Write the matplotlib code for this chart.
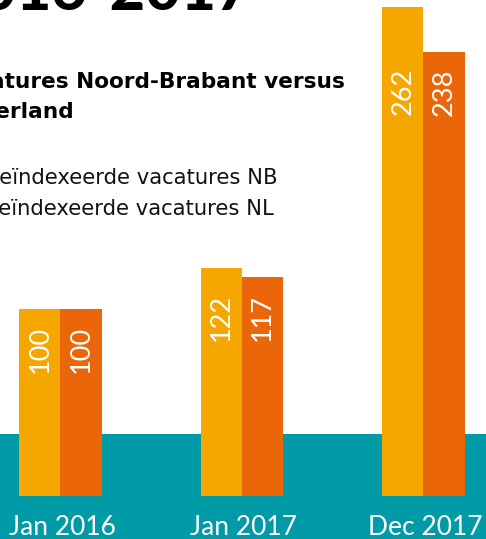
import matplotlib
matplotlib.use("Agg")
import matplotlib.pyplot as plt
import numpy as np

plt.rcParams['font.family'] = ['Lato', 'DejaVu Sans']

# data
periods = ['Jan 2016', 'Jan 2017', 'Dec 2017']
nb_values = [100, 122, 262]
nl_values = [100, 117, 238]
series_names = ['Geïndexeerde vacatures NB', 'Geïndexeerde vacatures NL']

nb_color = '#F5A700'
nl_color = '#EA6609'
teal = '#009BA7'

fig = plt.figure(figsize=(4.86, 5.39), dpi=100)
ax = fig.add_axes([0, 0, 1, 1])

x = np.arange(len(periods))
w = 0.226
ax.axhspan(-30, 32.9, color=teal, zorder=0, lw=0)
ax.bar(x - w / 2, nb_values, w, color=nb_color, zorder=2, lw=0)
ax.bar(x + w / 2, nl_values, w, color=nl_color, zorder=2, lw=0)

# value labels sit at the same height within a group, below the lower bar top
for i in range(len(periods)):
    low = min(nb_values[i], nl_values[i])
    for dx, v in ((-w / 2, nb_values[i]), (w / 2, nl_values[i])):
        ax.annotate(str(v), (x[i] + dx, low), xytext=(0, -12),
                    textcoords='offset points', rotation=90, ha='center',
                    va='top', color='white', fontsize=19.5, zorder=3)

for xi, lab in zip(x, periods):
    ax.text(xi + 0.01, -17, lab, ha='center', va='center', color='white',
            fontsize=19)

ax.set_xlim(-0.3333, 2.3444)
ax.set_ylim(-23.2, 265.6)
ax.axis('off')

# titles and legend text (cut off by the crop)
fig.text(252 / 486, 1 - 10 / 539, '2016-2017', ha='right', va='baseline',
         fontsize=44, fontweight='black', color='black')
fig.text(345 / 486, 1 - 88 / 539, 'Vacatures Noord-Brabant versus',
         ha='right', va='baseline', fontsize=15.6, fontweight='bold',
         color='black', family='DejaVu Sans')
fig.text(74 / 486, 1 - 118 / 539, 'Nederland',
         ha='right', va='baseline', fontsize=15.6, fontweight='bold',
         color='black', family='DejaVu Sans')
fig.text(278 / 486, 1 - 184 / 539, series_names[0],
         ha='right', va='baseline', fontsize=15.2, color='#111111',
         family='DejaVu Sans')
fig.text(274 / 486, 1 - 215 / 539, series_names[1],
         ha='right', va='baseline', fontsize=15.2, color='#111111',
         family='DejaVu Sans')

fig.savefig('out.png', dpi=100)
